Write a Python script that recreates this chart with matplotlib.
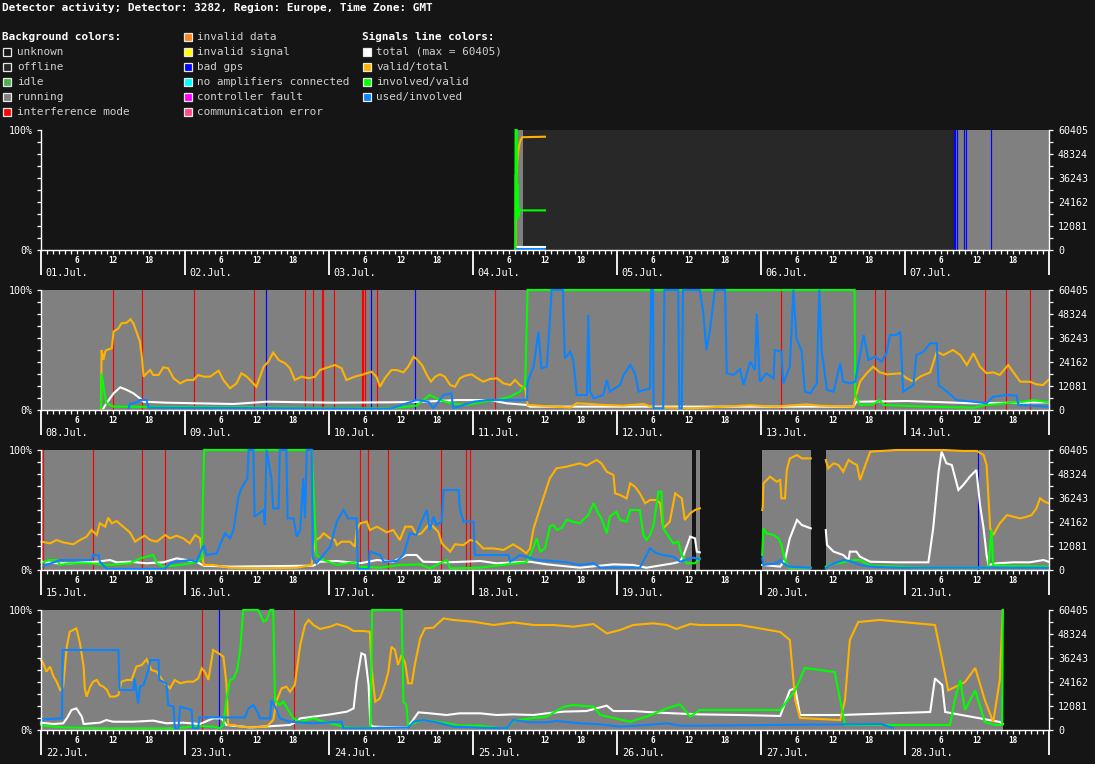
import matplotlib
matplotlib.use('Agg')
import matplotlib.pyplot as plt
from matplotlib.patches import Rectangle
import numpy as np

W, H = 1095, 764
MONO = 'DejaVu Sans Mono'
BG = '#151515'

TITLE = "Detector activity; Detector: 3282, Region: Europe, Time Zone: GMT"
MAX_TOTAL = 60405
WEEK_STARTS = [1, 8, 15, 22]
MONTH = "Jul."

STATE_COLORS = {
    'unknown': '#151515', 'offline': '#282828', 'idle': '#4caf50', 'running': '#808080',
    'interference': '#ff0000', 'invalid_data': '#f7871a', 'invalid_signal': '#ffff00',
    'bad_gps': '#0000ff', 'no_amp': '#00ffff', 'ctrl_fault': '#ff00ff', 'comm_error': '#ff4c88',
}
BG_LEGEND_1 = [('unknown', 'unknown'), ('offline', 'offline'), ('idle', 'idle'),
               ('running', 'running'), ('interference', 'interference mode')]
BG_LEGEND_2 = [('invalid_data', 'invalid data'), ('invalid_signal', 'invalid signal'),
               ('bad_gps', 'bad gps'), ('no_amp', 'no amplifiers connected'),
               ('ctrl_fault', 'controller fault'), ('comm_error', 'communication error')]
SIG_COLORS = {'total': '#ffffff', 'valid': '#ffb300', 'involved': '#00ff00', 'used': '#0a84ff'}
SIG_LEGEND = [('total', 'total (max = %d)' % MAX_TOTAL), ('valid', 'valid/total'),
              ('involved', 'involved/valid'), ('used', 'used/involved')]

# ---- background states per week: (start hour, end hour, state)
P1_STATES = [(0, 79.1, 'unknown'), (79.1, 80.33, 'running'), (80.33, 152.3, 'offline'), (152.3, 168, 'running')]
P2_STATES = [(0, 168, 'running')]
P3_STATES = [(0, 108.5, 'running'), (108.5, 109.2, 'unknown'), (109.2, 109.8, 'running'),
             (109.8, 120.2, 'unknown'), (120.2, 128.3, 'running'), (128.3, 130.8, 'unknown'),
             (130.8, 168, 'running')]
P4_STATES = [(0, 160.3, 'running'), (160.3, 168, 'unknown')]

# ---- short events (hour, state)
P1_EVENTS = [(152.1, 'bad_gps'), (152.25, 'bad_gps'), (152.7, 'bad_gps'), (153.9, 'bad_gps'),
             (154.2, 'bad_gps'), (158.4, 'bad_gps')]
P2_EVENTS = [(12.05, 'interference'), (16.88, 'interference'), (25.55, 'interference'),
             (35.55, 'interference'), (37.55, 'bad_gps'), (44.05, 'interference'),
             (45.38, 'interference'), (46.9, 'interference'), (47.05, 'interference'),
             (48.88, 'interference'), (53.45, 'interference'), (53.6, 'interference'),
             (54.05, 'interference'), (55.05, 'bad_gps'), (56.05, 'interference'),
             (62.38, 'bad_gps'), (75.72, 'interference'), (123.38, 'interference'),
             (139.05, 'interference'), (140.72, 'interference'), (157.38, 'interference'),
             (160.88, 'interference'), (164.88, 'interference')]
P3_EVENTS = [(0.38, 'interference'), (8.72, 'interference'), (16.88, 'interference'),
             (20.72, 'interference'), (53.22, 'interference'), (54.55, 'interference'),
             (57.88, 'interference'), (66.72, 'interference'), (70.78, 'interference'),
             (71.55, 'interference'), (156.22, 'bad_gps')]
P4_EVENTS = [(26.88, 'interference'), (29.62, 'bad_gps'), (42.22, 'interference')]

# ---- signal series: (hour, percent); None = gap
P1_TOTAL = [(79.3, 2.2), (84.0, 2.2)]
P1_VALID = [(79.1, 0), (79.12, 62), (79.3, 62), (79.35, 72), (79.5, 80), (79.7, 87.5),
            (79.9, 91), (80.2, 94), (84.0, 94.4)]
P1_INVOLVED = [(79.05, 0), (79.1, 100), (79.28, 100), (79.3, 60), (79.35, 25), (79.4, 55),
               (79.45, 30), (79.5, 40), (79.6, 28), (79.7, 33), (84.0, 33)]
P1_USED = [(79.3, 0.8), (84.0, 0.8)]

P2_TOTAL = [(10.4, 1.4), (10.9, 5.5), (12.1, 13.9), (13.2, 18.9), (14.3, 16.7), (15.4, 13.9),
            (16.5, 9.7), (17.1, 6.9), (20.9, 6.1), (32.1, 5), (37.6, 6.9), (48.7, 6.1),
            (58.2, 6.4), (63.7, 6.9), (69.3, 8.3), (74.8, 8.3), (77.6, 5.6), (80.9, 4.2),
            (81.5, 2.8), (135.4, 2.8), (135.9, 6.9), (144.3, 7.5), (155.4, 5.6), (167.9, 6.4)]
P2_VALID = [(10.0, 0), (10.1, 50), (10.4, 41.7), (10.7, 48.6), (10.9, 50), (11.8, 51.4),
            (12.1, 65.3), (12.9, 68), (13.4, 72.2), (14.3, 72.8), (14.9, 75.6), (15.4, 72.2),
            (16.0, 63.9), (16.5, 56.9), (16.8, 44.4), (17.1, 27.8), (17.6, 30.6), (18.2, 33.3),
            (18.7, 29.2), (19.6, 29.2), (20.4, 35.6), (21.2, 34.7), (22.1, 26.4), (23.2, 22.2),
            (24.3, 25), (25.4, 25), (26.2, 29.2), (27.1, 27.8), (28.2, 27.8), (29.6, 32.8),
            (30.4, 25), (31.5, 18.1), (32.6, 22.2), (33.4, 30.6), (34.3, 27.8), (35.1, 23.6),
            (35.9, 19.4), (37.1, 36.1), (37.9, 40.3), (38.7, 47.8), (39.6, 41.7), (40.7, 38.9),
            (41.5, 34.7), (42.3, 25), (43.4, 27.8), (44.6, 26.4), (45.7, 27.8), (46.5, 33.3),
            (47.3, 34.7), (49.0, 37.5), (50.1, 34.7), (50.9, 25), (52.3, 27.8), (53.4, 29.2),
            (55.1, 31.9), (55.9, 27.8), (56.5, 19.4), (57.3, 26.4), (58.4, 33.3), (59.3, 33.3),
            (60.4, 31.4), (61.2, 36.1), (62.1, 44.4), (62.6, 42.5), (63.5, 37.5), (64.3, 29.2),
            (65.0, 23.6), (65.7, 27.8), (66.5, 29.7), (67.3, 27.8), (68.2, 20.8), (69.0, 19.4),
            (69.8, 26.4), (70.7, 28.6), (71.8, 29.7), (72.6, 26.9), (73.7, 23.6), (74.8, 25.8),
            (76.0, 26.4), (77.1, 22.2), (78.2, 20.8), (79.0, 25), (79.8, 20.8), (80.7, 18),
            (81.1, 4.2), (88.2, 2), (89.3, 5.6), (91.5, 5), (93.7, 4.2), (97.0, 3.6),
            (100.4, 5), (102.1, 2), (105.4, 2), (108.2, 1.4), (110.9, 2), (113.7, 2.8),
            (116.5, 3.5), (118.2, 4), (122.1, 2.8), (127.6, 4.7), (129.8, 3.6), (135.4, 2.8),
            (135.7, 9.7), (136.5, 23.6), (137.6, 30.6), (138.7, 36.1), (139.8, 31.4),
            (141.0, 29.7), (143.2, 30.6), (144.3, 26.4), (145.4, 23.6), (146.5, 27.8),
            (148.2, 31.4), (149.3, 48.6), (150.4, 45.8), (152.0, 50), (153.2, 45.8),
            (154.3, 37.5), (155.4, 47.2), (156.5, 36.1), (157.6, 30.6), (158.7, 31.4),
            (159.8, 29.2), (161.2, 37.5), (162.0, 31.9), (163.2, 23.6), (164.8, 23.6),
            (165.9, 21.4), (167.0, 20.8), (167.9, 25)]
P2_INVOLVED = [(10.0, 1.4), (10.1, 30.6), (10.5, 16.7), (10.9, 5.5), (12.1, 2.8), (58.2, 1.4),
               (62.6, 3.6), (64.8, 12.5), (66.5, 8.3), (68.2, 5.6), (70.9, 4.2), (73.7, 6.9),
               (75.9, 8.3), (78.2, 11.1), (79.8, 15.3), (80.7, 20.8), (81.1, 100), (135.6, 100),
               (135.7, 12.5), (136.5, 4.2), (138.7, 4.7), (139.8, 8.3), (140.4, 4.2),
               (147.6, 2.8), (155.4, 1.9), (157.6, 4.2), (163.7, 6.9), (165.4, 8.3), (167.9, 6.4)]
P2_USED = [(14.6, 1.4), (14.8, 5), (15.9, 6.1), (16.5, 8.3), (17.6, 8.3), (17.9, 1.9),
           (58.2, 1.0), (62.6, 8.3), (64.6, 6.9), (65.4, 1.4), (67.1, 12.5), (68.4, 13.9),
           (68.7, 1.4), (72.1, 6.9), (74.3, 8.3), (81.0, 8.3), (81.1, 23.6), (82.1, 36.1),
           (82.9, 65.3), (83.4, 34.7), (84.3, 36.1), (84.8, 73.6), (85.1, 100), (87.0, 100),
           (87.1, 76.4), (87.3, 43), (88.2, 48.6), (88.7, 41.7), (89.3, 12.5), (91.0, 12.5),
           (91.2, 79.2), (91.5, 15.3), (92.1, 9.7), (93.7, 12.5), (94.3, 25), (94.8, 15.3),
           (96.5, 20.8), (97.1, 29.2), (98.2, 37.5), (99.0, 30.6), (99.6, 15.3), (101.5, 18),
           (101.7, 100), (102.0, 100), (102.1, 1.4), (103.7, 1.4), (103.9, 100), (106.2, 100),
           (106.4, 1.4), (106.8, 1.4), (107.0, 100), (109.8, 100), (110.4, 80.5), (110.9, 50),
           (111.5, 66.7), (112.3, 100), (114.0, 100), (114.3, 30.6), (115.4, 29.2),
           (116.5, 34), (117.1, 20.8), (118.2, 40.3), (119.0, 33.3), (119.3, 80.5),
           (119.8, 23.6), (120.9, 30.6), (122.1, 26.4), (122.3, 50), (123.4, 48.6),
           (123.7, 22.2), (124.8, 36.1), (125.4, 100), (125.9, 59.7), (126.8, 48.6),
           (127.3, 15.3), (128.2, 13.9), (129.3, 22.2), (129.7, 100), (130.1, 50), (131.0, 16.7),
           (132.1, 15.3), (133.2, 38.9), (133.7, 23.6), (134.8, 22.2), (135.7, 23.6),
           (137.1, 62.5), (137.9, 41.7), (139.0, 44.4), (140.1, 40.3), (140.9, 47.2),
           (141.5, 62.5), (142.6, 62.5), (143.2, 65.3), (143.7, 15.3), (145.4, 20.8),
           (145.9, 45.8), (147.1, 48.6), (148.2, 55.6), (149.3, 55.6), (149.6, 20.8),
           (151.0, 15.3), (152.6, 8.3), (155.4, 6.9), (157.6, 5.6), (158.7, 11.1), (161.0, 12.5),
           (162.6, 12), (162.9, 4.2), (167.9, 2.8)]

P3_TOTAL = [(0.1, 6.9), (2.6, 5.6), (4.8, 5.6), (9.3, 6.9), (11.5, 8.3), (12.6, 6.4), (14.8, 6.9),
            (17.6, 5.6), (20.4, 6.4), (22.6, 9.7), (24.3, 8.3), (25.9, 6.9), (27.1, 3.6),
            (31.5, 2.8), (45.4, 3.6), (46.5, 6.9), (49.3, 7.5), (51.5, 6.4), (53.2, 5.6),
            (56.0, 8.3), (58.7, 6.9), (60.9, 12.5), (62.6, 12.5), (63.7, 6.9), (67.6, 6.4),
            (70.4, 6.9), (73.2, 7.5), (75.9, 5.6), (81.5, 6.9), (84.3, 4.7), (89.8, 1.9),
            (95.4, 4.7), (98.7, 4.2), (100.9, 1.9), (105.4, 5.6), (106.5, 6.9), (107.1, 12.5),
            (108.2, 27.8), (109.0, 26.4), (109.3, 15.3), (109.8, 14.7), None,
            (120.2, 4.2), (123.2, 2.8), (124.0, 8.3), (124.8, 26.4), (126.0, 41.7),
            (126.8, 37.5), (128.3, 34.7), None,
            (130.8, 33.3), (131.0, 20.8), (132.1, 15.3), (133.7, 12.5), (134.6, 8.3),
            (134.8, 15.3), (135.9, 15.3), (136.5, 11.1), (138.2, 6.9), (142.6, 6.4),
            (147.9, 6.4), (148.7, 34.7), (149.6, 81.9), (150.1, 98.6), (150.9, 88.9),
            (151.8, 87.5), (152.9, 66.7), (153.7, 70.8), (154.8, 77.8), (155.9, 83.3),
            (156.5, 54.2), (157.1, 34.7), (157.6, 12.5), (157.9, 4.2), (159.3, 5.6),
            (162.1, 6.4), (164.8, 6.4), (167.1, 8.3), (167.9, 6.9)]
P3_VALID = [(0.1, 23.6), (1.5, 22.2), (2.6, 25), (3.7, 23), (5.4, 21.4), (6.5, 25), (7.6, 27.8),
            (8.4, 33.3), (9.3, 29.2), (9.8, 38.9), (10.7, 36.1), (11.2, 43.6), (11.8, 38.9),
            (12.6, 40.8), (13.7, 36.1), (14.8, 31.4), (15.7, 23.6), (16.5, 26.4), (17.3, 28.6),
            (18.2, 25), (19.3, 23.6), (20.7, 29.2), (21.5, 26.4), (22.6, 28.6), (23.7, 26.4),
            (24.8, 22.2), (25.7, 29.2), (26.5, 26.4), (26.8, 15.3), (27.1, 4.2), (28.7, 4.2),
            (31.5, 1.9), (37.1, 1.4), (42.6, 1.9), (45.1, 4.2), (45.4, 15.3), (45.8, 25),
            (46.5, 26.9), (47.1, 30.6), (48.2, 26.4), (49.0, 25), (49.3, 20.8), (50.1, 23.6),
            (51.5, 23.6), (52.3, 19.4), (52.6, 33.3), (53.2, 38.9), (54.3, 40.3), (54.8, 33.3),
            (56.0, 36.1), (56.5, 34.7), (57.6, 31.4), (58.7, 33.3), (59.8, 25), (60.7, 36.1),
            (61.8, 36.1), (62.6, 29.2), (63.4, 30.6), (64.8, 38.9), (66.2, 31.9), (66.8, 22.2),
            (68.2, 15.3), (69.0, 21.4), (70.4, 20.8), (71.5, 25), (72.6, 23.6), (73.7, 18),
            (75.4, 18), (77.1, 16.7), (78.7, 21.4), (79.8, 18), (80.9, 13.9), (81.5, 18),
            (82.1, 34.7), (82.9, 47.2), (83.7, 59.7), (84.8, 76.4), (85.9, 84.7), (87.6, 86.1),
            (89.8, 88.9), (90.9, 86.9), (92.6, 91.7), (93.4, 88.9), (94.3, 81.9), (95.4, 79.2),
            (95.7, 63.9), (96.5, 62.5), (97.6, 59.7), (98.2, 72.2), (99.0, 69.4), (99.8, 63.9),
            (100.7, 55.6), (101.5, 58.3), (102.6, 58.3), (103.2, 55.6), (103.7, 34.7),
            (104.8, 40.3), (105.7, 63.9), (106.8, 59.7), (107.3, 41.7), (108.2, 47.2),
            (109.0, 50), (109.8, 51.4), None,
            (120.2, 50), (120.3, 52.8), (120.4, 72.2), (121.5, 77.8), (122.6, 73.6), (123.2, 75),
            (123.4, 59.7), (124.0, 59.7), (124.3, 83.3), (124.8, 93), (126.0, 95.8),
            (126.8, 93), (128.3, 93), None,
            (130.8, 91.7), (131.2, 84.7), (132.1, 88.9), (132.9, 87.5), (133.7, 81.9),
            (134.6, 91.7), (135.4, 88.9), (136.0, 87.5), (136.5, 75), (137.1, 83.3),
            (137.6, 90.3), (138.2, 98.6), (142.6, 100), (147.1, 100), (150.4, 100),
            (153.7, 99.2), (156.0, 99.2), (157.1, 95.8), (157.6, 87.5), (158.2, 34.7),
            (158.7, 29.2), (159.8, 38.9), (161.0, 45.8), (162.1, 44.4), (163.2, 43),
            (164.3, 44.4), (165.1, 45.8), (165.9, 51.4), (166.5, 59.7), (167.3, 56.9),
            (167.9, 55.6)]
P3_INVOLVED = [(0.1, 5.6), (1.2, 8.3), (2.6, 8.3), (3.2, 4.2), (4.8, 5.6), (8.2, 5.6), (11.0, 4.2),
               (14.8, 5.6), (16.5, 9.7), (18.7, 12.5), (19.3, 5.6), (20.4, 2.8), (23.2, 4.2),
               (25.9, 6.4), (26.8, 9.7), (27.0, 62.5), (27.2, 100), (45.1, 100), (45.4, 70.8),
               (45.7, 34.7), (45.9, 12.5), (47.1, 8.3), (49.3, 4.2), (52.1, 6.4), (53.2, 2.8),
               (56.5, 1.9), (59.8, 4.2), (63.2, 4.7), (64.8, 1.4), (67.6, 8.3), (68.2, 1.4),
               (73.2, 1.9), (77.6, 4.7), (80.9, 6.4), (81.8, 15.3), (82.6, 26.4), (83.2, 15.3),
               (84.0, 18), (84.8, 36.1), (85.4, 37.5), (86.0, 33.3), (86.8, 35.3), (87.6, 41.7),
               (88.7, 40.3), (89.8, 38.9), (91.2, 45.8), (92.1, 55.6), (92.9, 47.2), (93.4, 43),
               (94.3, 30.6), (94.8, 44.4), (95.9, 48.6), (96.5, 41.7), (97.6, 40.3), (98.2, 50),
               (99.8, 50), (100.4, 29.2), (100.9, 25), (101.5, 29.2), (102.1, 37.5),
               (102.9, 65.3), (103.4, 65.3), (103.7, 34.7), (104.8, 26.4), (105.4, 22.2),
               (106.2, 23.6), (106.8, 12.5), (107.6, 5.6), (109.0, 5.6), (109.8, 9.7), None,
               (120.2, 12.5), (120.4, 34.7), (120.9, 30.6), (122.1, 29.2), (122.9, 26.4),
               (123.4, 20.8), (124.0, 8.3), (124.6, 1.9), (128.3, 1.9), None,
               (130.8, 2.8), (131.5, 4.7), (133.7, 6.4), (135.4, 8.3), (136.5, 8.3),
               (138.2, 3.6), (142.6, 2.8), (148.2, 1.9), (157.9, 1.9), (158.2, 20.8),
               (158.4, 33.3), (158.7, 4.2), (159.3, 3.6), (167.9, 2.8)]
P3_USED = [(0.1, 2.8), (3.2, 8.3), (8.4, 8.3), (8.7, 12.5), (9.6, 12.5), (9.8, 6.9), (11.0, 0.8),
           (20.4, 0.8), (21.0, 2.8), (21.5, 5.6), (22.6, 6.9), (24.8, 8.3), (25.9, 6.9),
           (27.1, 20.8), (27.6, 12.5), (29.3, 13.9), (29.8, 20.8), (30.7, 30.6), (31.5, 26.4),
           (32.1, 33.3), (32.9, 61.1), (33.4, 68), (34.4, 76.4), (34.6, 100), (35.4, 100),
           (35.6, 44.4), (37.1, 50), (37.3, 37.5), (37.6, 100), (38.4, 76.4), (38.7, 51.4),
           (39.6, 51.4), (39.8, 100), (40.9, 100), (41.1, 43), (42.1, 43), (42.6, 27.8),
           (43.2, 33.3), (43.7, 76.4), (44.0, 43), (44.3, 100), (45.1, 100), (45.3, 9.7),
           (45.9, 5.6), (48.2, 19.4), (49.3, 40.3), (50.4, 50), (51.2, 43), (52.6, 43),
           (52.8, 0.8), (54.6, 0.8), (54.8, 15.3), (55.7, 13.9), (56.5, 12.5), (57.1, 6.9),
           (59.3, 7.5), (60.4, 12.5), (61.5, 30.6), (62.6, 29.2), (63.4, 40.3), (64.3, 50),
           (64.8, 33.3), (65.4, 44.4), (65.9, 37.5), (66.8, 40.3), (67.1, 66.7), (69.6, 66.7),
           (69.8, 51.4), (70.4, 40.3), (72.1, 40.3), (72.3, 12.5), (77.9, 12.5), (78.2, 6.9),
           (79.8, 12.5), (81.8, 9.7), (82.6, 8.3), (85.4, 7.5), (87.6, 6.4), (89.8, 4.2),
           (92.1, 5.6), (93.2, 1.9), (99.8, 1.9), (101.5, 18), (102.6, 13.9), (103.7, 12.5),
           (105.4, 11.1), (106.5, 6.9), (108.7, 10.3), (109.8, 9), None,
           (120.2, 9.7), (120.4, 4.2), (122.6, 5.6), (123.2, 8.3), (123.7, 5.6), (124.6, 2.8),
           (128.3, 1.9), None,
           (130.8, 1.4), (131.5, 4.2), (133.7, 8.3), (134.8, 7.5), (136.5, 4.2), (138.2, 2.8),
           (142.6, 1.9), (167.9, 1.9)]

P4_TOTAL = [(0.0, 6.1), (2.1, 5), (3.7, 5.6), (4.3, 9.7), (5.1, 16.7), (5.9, 18), (6.8, 11.1),
            (7.1, 5), (9.8, 6.1), (10.9, 8.3), (12.0, 6.9), (15.4, 6.9), (18.7, 7.8), (20.9, 5.6),
            (23.7, 6.1), (26.5, 5), (28.7, 9.7), (30.1, 9.7), (30.9, 4.2), (34.8, 2.2),
            (38.7, 3.3), (41.5, 4.2), (42.1, 5.6), (43.2, 9.7), (45.4, 11.1), (48.2, 13),
            (51.0, 15.3), (52.1, 18), (52.6, 40.3), (53.4, 63.9), (54.0, 62.5), (54.6, 37.5),
            (54.9, 4.2), (55.4, 2.8), (61.0, 1.9), (61.8, 6.9), (62.9, 14.7), (64.8, 13.9),
            (67.6, 12.5), (69.8, 13.9), (73.2, 13.9), (75.9, 12.5), (78.7, 13), (82.1, 12.5),
            (84.3, 13.9), (87.1, 15.3), (90.9, 15.8), (94.3, 20.3), (95.4, 15.8), (98.7, 15.8),
            (102.0, 14.7), (105.4, 13.9), (109.8, 13), (116.5, 12.5), (123.2, 11.7),
            (124.8, 33), (125.7, 35), (126.5, 12.5), (133.2, 12.5), (148.2, 15), (149.0, 43),
            (150.2, 37.5), (150.7, 15), (159.8, 6.7), (160.3, 5)]
P4_VALID = [(0.0, 58.3), (0.4, 55.6), (0.9, 48.6), (1.5, 52.8), (2.1, 44.4), (2.6, 40.3),
            (3.2, 33.3), (3.7, 36.1), (4.3, 69.4), (4.8, 81.9), (5.9, 84.7), (6.5, 72.2),
            (7.1, 52.8), (7.3, 34.7), (7.6, 27.8), (8.2, 36.1), (8.7, 40.3), (9.3, 41.7),
            (9.8, 37.5), (10.4, 36.1), (11.0, 33.3), (11.5, 27.8), (12.3, 27.8), (12.9, 29.2),
            (13.4, 40.3), (14.3, 41.7), (15.1, 41.7), (15.9, 52.8), (16.8, 54.2), (17.6, 58.9),
            (18.4, 50), (19.3, 48.6), (20.4, 40.3), (21.5, 34.7), (22.3, 41.7), (23.2, 38.9),
            (24.3, 40.3), (25.4, 40.3), (26.2, 43), (26.8, 51.4), (27.3, 48.6), (27.9, 41.7),
            (28.7, 66.7), (29.6, 63.9), (30.4, 61.1), (30.9, 38.9), (31.2, 4.2), (32.1, 4.2),
            (33.2, 2.8), (35.4, 2.2), (37.6, 2.8), (38.7, 8.3), (39.3, 25), (40.1, 34.7),
            (40.9, 36.1), (41.5, 31.9), (42.3, 37.5), (43.2, 70.8), (44.0, 87.5), (44.6, 91.7),
            (45.4, 87.5), (46.5, 84.2), (48.2, 86.1), (49.3, 88.3), (51.0, 85.8), (52.1, 82.5),
            (53.7, 82.5), (54.8, 81.9), (55.1, 51.4), (55.7, 23.6), (56.5, 26.4), (57.3, 37.5),
            (57.9, 48.6), (58.4, 69.4), (59.0, 66.7), (59.5, 54.2), (60.1, 62.5), (60.7, 55.6),
            (61.2, 38.9), (61.8, 38.9), (62.3, 54.2), (63.2, 76.4), (64.0, 84.7), (65.4, 85.3),
            (67.1, 93), (68.7, 91.7), (72.0, 90.3), (75.4, 87.5), (78.7, 89.7), (82.1, 87.5),
            (85.4, 87.5), (88.7, 86.1), (92.1, 88.3), (94.3, 80.5), (96.5, 83.3), (98.7, 87.5),
            (102.0, 88.9), (104.3, 87.5), (105.9, 84.2), (108.2, 88.3), (109.8, 87.5),
            (116.5, 87.5), (123.2, 81.7), (124.8, 75), (125.7, 25), (126.5, 10), (133.2, 8.3),
            (134.0, 25), (134.8, 75), (136.2, 90), (139.8, 91.7), (149.0, 87.5), (150.2, 58.3),
            (151.2, 33), (154.0, 40), (155.7, 51.7), (157.3, 25), (158.7, 6.7), (159.8, 41.7),
            (160.3, 100)]
P4_INVOLVED = [(0.0, 4.2), (0.9, 3.3), (3.7, 2.2), (9.8, 1.4), (22.0, 1.4), (26.5, 3.3),
               (28.7, 2.8), (29.8, 1.4), (30.4, 4.2), (30.9, 25), (31.5, 41.7), (32.1, 43),
               (32.7, 50), (33.2, 66.7), (33.7, 100), (36.2, 100), (37.1, 90.3), (37.6, 91.7),
               (38.2, 100), (38.7, 100), (39.0, 25), (39.8, 20.8), (40.4, 23.6), (41.2, 16.7),
               (42.1, 9.7), (43.2, 6.9), (45.4, 9.7), (47.1, 6.9), (49.3, 4.2), (51.0, 1.9),
               (54.9, 1.4), (55.2, 100), (60.1, 100), (60.4, 23.6), (60.9, 20.8), (61.2, 2.8),
               (62.1, 5.6), (63.7, 8.3), (65.9, 6.9), (67.6, 5.6), (69.8, 3.6), (73.2, 3.6),
               (75.9, 1.9), (77.6, 1.4), (78.7, 7.5), (81.5, 9.7), (84.3, 11.1), (87.1, 19.4),
               (88.7, 20.8), (92.1, 19.4), (93.2, 12.5), (98.2, 6.9), (100.9, 11.1), (104.3, 18),
               (106.5, 21.4), (108.2, 11.1), (109.8, 16.7), (123.2, 16.7), (125.7, 33),
               (127.3, 51.7), (132.3, 48.3), (134.0, 4.2), (151.5, 4.2), (152.3, 25),
               (153.2, 41.7), (154.0, 16.7), (155.7, 33), (157.3, 6.7), (159.0, 4.2),
               (160.2, 4.2), (160.3, 100)]
P4_USED = [(0.0, 6.9), (0.4, 8.9), (3.5, 9.7), (3.6, 66.7), (12.9, 66.7), (13.1, 33.3),
           (15.4, 33.3), (15.6, 43), (16.2, 22.2), (16.5, 36.1), (17.1, 37.5), (17.9, 50),
           (18.2, 58.3), (19.6, 58.3), (19.7, 41.7), (20.9, 38.9), (21.2, 20.8), (22.1, 19.4),
           (22.3, 1.4), (22.9, 1.4), (23.2, 19.4), (25.1, 16.7), (25.3, 1.4), (26.2, 1.4),
           (26.4, 10.5), (34.0, 10.5), (34.6, 18), (35.4, 20.8), (36.2, 13.9), (36.5, 9.7),
           (38.2, 9.7), (38.4, 25), (39.3, 16.7), (39.8, 9.7), (41.5, 6.9), (45.4, 5.6),
           (48.2, 6.4), (50.1, 6.9), (50.4, 1.4), (55.1, 1.4), (56.5, 1.9), (61.2, 1.9),
           (62.1, 6.9), (63.7, 8.3), (65.9, 6.4), (68.7, 2.8), (73.2, 1.9), (77.6, 1.4),
           (78.7, 8.3), (81.5, 6.4), (84.3, 6.4), (85.9, 7.5), (89.8, 5.6), (93.2, 4.7),
           (96.5, 2.8), (101.0, 4.2), (104.3, 5.6), (106.5, 3.6), (109.8, 3.6), (140.0, 5),
           (142.0, 1.7)]

PANELS = [
    (P1_STATES, P1_EVENTS, P1_TOTAL, P1_VALID, P1_INVOLVED, P1_USED),
    (P2_STATES, P2_EVENTS, P2_TOTAL, P2_VALID, P2_INVOLVED, P2_USED),
    (P3_STATES, P3_EVENTS, P3_TOTAL, P3_VALID, P3_INVOLVED, P3_USED),
    (P4_STATES, P4_EVENTS, P4_TOTAL, P4_VALID, P4_INVOLVED, P4_USED),
]


def to_xy(pairs):
    xs, ys = [], []
    for p in pairs:
        if p is None:
            xs.append(np.nan); ys.append(np.nan)
        else:
            xs.append(p[0]); ys.append(p[1])
    return np.array(xs, float), np.array(ys, float)


def fx(x):
    return x / W


def fy(y):
    return 1 - y / H


fig = plt.figure(figsize=(W / 100, H / 100), dpi=100)
fig.patch.set_facecolor(BG)

FS_BIG = 7.9
fig.text(fx(2), fy(8), TITLE, ha='left', va='center', fontsize=FS_BIG, fontweight='bold',
         color='white', family=MONO)


def legend_square(x, y, color):
    fig.patches.append(Rectangle((fx(x), fy(y + 4)), 8 / W, 8 / H, transform=fig.transFigure,
                                 facecolor=color, edgecolor='#e8e8e8', linewidth=0.9))


ITEM_COLOR = '#cfcfcf'
fig.text(fx(2), fy(37), 'Background colors:', ha='left', va='center', fontsize=FS_BIG,
         fontweight='bold', color='white', family=MONO)
for i, (k, lab) in enumerate(BG_LEGEND_1):
    y = 52 + 15 * i
    legend_square(3, y, STATE_COLORS[k])
    fig.text(fx(17), fy(y), lab, ha='left', va='center', fontsize=FS_BIG, color=ITEM_COLOR, family=MONO)
for i, (k, lab) in enumerate(BG_LEGEND_2):
    y = 37 + 15 * i
    legend_square(184, y, STATE_COLORS[k])
    fig.text(fx(197), fy(y), lab, ha='left', va='center', fontsize=FS_BIG, color=ITEM_COLOR, family=MONO)
fig.text(fx(362), fy(37), 'Signals line colors:', ha='left', va='center', fontsize=FS_BIG,
         fontweight='bold', color='white', family=MONO)
for i, (k, lab) in enumerate(SIG_LEGEND):
    y = 52 + 15 * i
    legend_square(362.5, y, SIG_COLORS[k])
    fig.text(fx(376), fy(y), lab, ha='left', va='center', fontsize=FS_BIG, color=ITEM_COLOR, family=MONO)

PANEL_BOTTOMS = [250, 410, 570, 730]
right_labels = [str(int(round(MAX_TOTAL * k / 5))) for k in range(6)]

for pi, (states, events, total, valid, involved, used) in enumerate(PANELS):
    bottom = PANEL_BOTTOMS[pi]
    ax = fig.add_axes([fx(41), fy(bottom), 1008 / W, 120 / H])
    ax.set_facecolor(BG)
    ax.set_xlim(0, 168)
    ax.set_ylim(0, 100)
    for (s, e, st) in states:
        ax.axvspan(s, e, color=STATE_COLORS[st], lw=0, zorder=0.5)
    for (h, st) in events:
        ax.axvline(h, color=STATE_COLORS[st], lw=0.85, zorder=0.8)
    for series, key, z in [(total, 'total', 2), (valid, 'valid', 3), (involved, 'involved', 4), (used, 'used', 5)]:
        xs, ys = to_xy(series)
        ax.plot(xs, ys, color=SIG_COLORS[key], lw=1.5, zorder=z, clip_on=False,
                solid_joinstyle='miter')

    for side in ['top']:
        ax.spines[side].set_visible(False)
    for side in ['left', 'right', 'bottom']:
        ax.spines[side].set_color('white')
        ax.spines[side].set_linewidth(1.0)
        ax.spines[side].set_zorder(6)

    # x ticks
    ax.set_xticks(np.arange(0, 169, 24))
    ax.set_xticks(np.arange(0, 169, 1), minor=True)
    ax.tick_params(axis='x', which='major', length=18, width=1.3, color='white', labelbottom=False)
    ax.tick_params(axis='x', which='minor', length=2.6, width=0.9, color='white')
    for d in range(7):
        for hh in (6, 12, 18):
            ax.annotate(str(hh), xy=(d * 24 + hh, 0), xycoords=('data', 'axes fraction'),
                        xytext=(0, -7.4), textcoords='offset points', ha='center', va='center',
                        fontsize=5.6, fontweight='bold', color='white', family=MONO,
                        annotation_clip=False)
        ax.annotate('%02d.%s' % (WEEK_STARTS[pi] + d, MONTH), xy=(d * 24, 0),
                    xycoords=('data', 'axes fraction'), xytext=(3.4, -16.4),
                    textcoords='offset points', ha='left', va='center', fontsize=7.3,
                    color='white', family=MONO, annotation_clip=False)

    # left y ticks
    ax.set_yticks(np.arange(0, 101, 10))
    ax.set_yticklabels(['0%'] + [''] * 9 + ['100%'])
    ax.tick_params(axis='y', which='major', length=3, width=0.9, color='white', labelcolor='white',
                   labelsize=7.2, pad=3)
    for t in ax.get_yticklabels():
        t.set_family(MONO)

    ax2 = ax.twinx()
    ax2.set_ylim(0, 100)
    ax2.set_yticks(np.arange(0, 101, 10))
    labs = []
    for k in range(11):
        labs.append(right_labels[k // 2] if k % 2 == 0 else '')
    ax2.set_yticklabels(labs)
    ax2.tick_params(axis='y', which='major', length=3, width=0.9, color='white', labelcolor='white',
                    labelsize=7.2, pad=3.5)
    for t in ax2.get_yticklabels():
        t.set_family(MONO)
    for side in ax2.spines:
        ax2.spines[side].set_visible(False)

fig.savefig('out.png', dpi=100, facecolor=BG)
